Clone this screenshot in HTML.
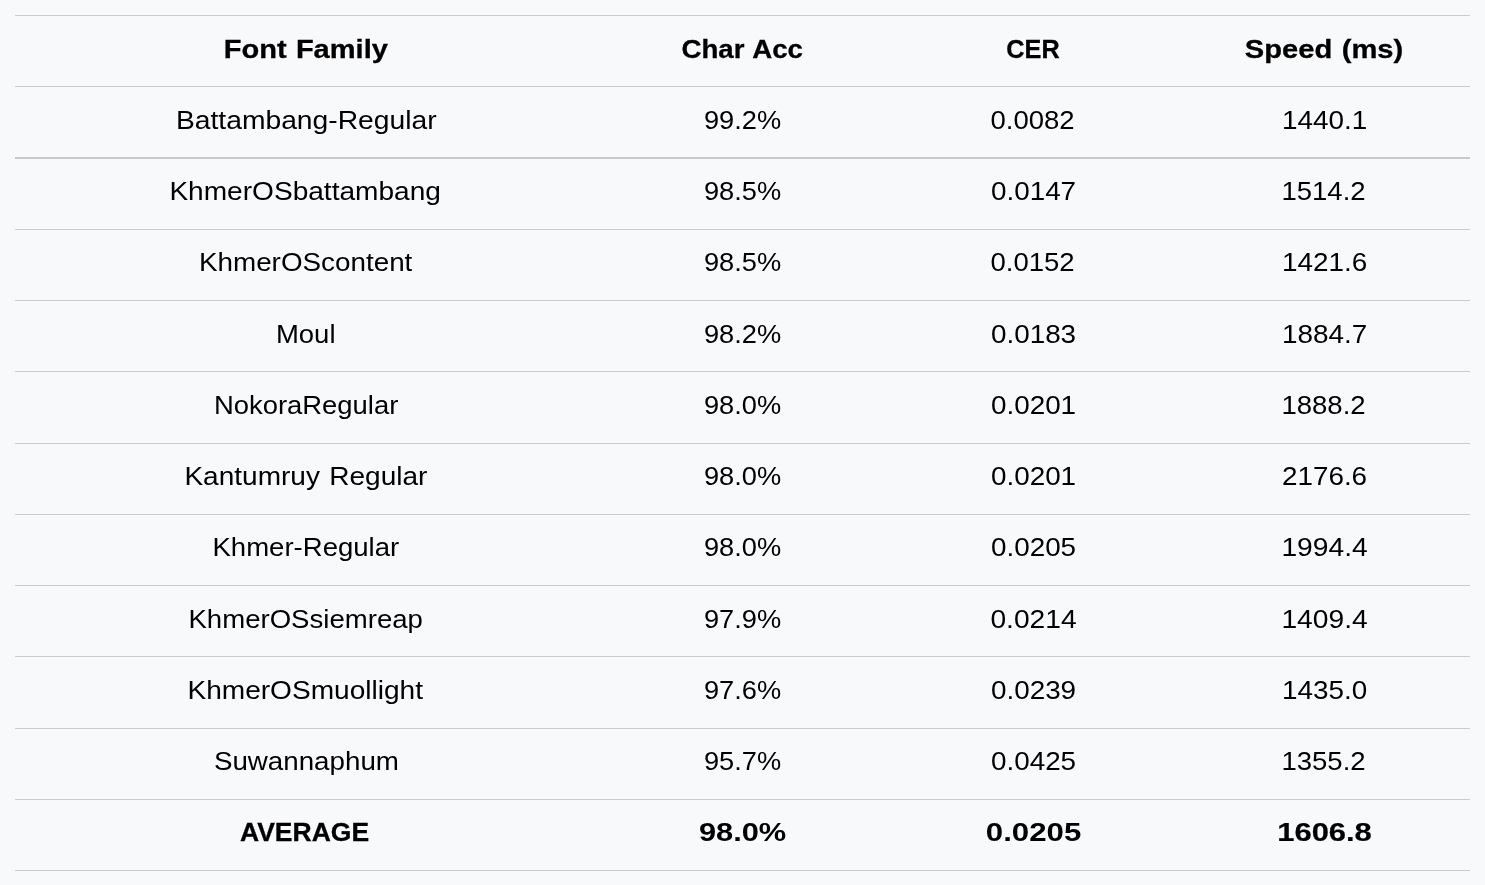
<!DOCTYPE html>
<html lang="en">
<head>
<meta charset="utf-8">
<title>Font OCR accuracy table</title>
<style>
html,body{margin:0;padding:0;}
body{width:1485px;height:885px;overflow:hidden;background:#f8f9fa;position:relative;
  font-family:"Liberation Sans",sans-serif;color:#000;}
.rule{position:absolute;left:15px;width:1455px;height:1px;background:#cccccc;}
.rule.thick{height:2px;background:#c9c9c9;}
.row{position:absolute;left:15px;width:1455px;height:71px;display:flex;will-change:transform;}
.cell{height:71px;line-height:71px;text-align:center;white-space:nowrap;font-size:26.5px;flex:none;}
.c0{width:582px;}.c1,.c2,.c3{width:291px;}
.cell span{display:inline-block;transform-origin:50% 50%;position:relative;}
.b .cell{font-weight:bold;}
</style>
</head>
<body>
<div class="rule" style="top:15px"></div>
<div class="rule" style="top:86px"></div>
<div class="rule thick" style="top:157px"></div>
<div class="rule" style="top:229px"></div>
<div class="rule" style="top:300px"></div>
<div class="rule" style="top:371px"></div>
<div class="rule" style="top:443px"></div>
<div class="rule" style="top:514px"></div>
<div class="rule" style="top:585px"></div>
<div class="rule" style="top:656px"></div>
<div class="rule" style="top:728px"></div>
<div class="rule" style="top:799px"></div>
<div class="rule" style="top:870px"></div>
<div class="row b" style="top:15px">
  <div class="cell c0"><span style="word-spacing:1.0px;-webkit-text-stroke:0.30px #000;transform:scaleX(1.0955);top:-1px;">Font Family</span></div>
  <div class="cell c1"><span style="word-spacing:1.0px;-webkit-text-stroke:0.30px #000;transform:scaleX(1.0444);left:-0.5px;top:-1px;">Char Acc</span></div>
  <div class="cell c2"><span style="-webkit-text-stroke:0.30px #000;transform:scaleX(0.9530);left:-0.5px;top:-1px;">CER</span></div>
  <div class="cell c3"><span style="word-spacing:1.2px;-webkit-text-stroke:0.30px #000;transform:scaleX(1.0994);top:-1px;">Speed (ms)</span></div>
</div>
<div class="row" style="top:86px">
  <div class="cell c0"><span style="transform:scaleX(1.0661);top:-1px;">Battambang-Regular</span></div>
  <div class="cell c1"><span style="transform:scaleX(1.0274);top:-1px;">99.2%</span></div>
  <div class="cell c2"><span style="transform:scaleX(1.0385);left:-0.5px;top:-1px;">0.0082</span></div>
  <div class="cell c3"><span style="transform:scaleX(1.0513);top:-1px;">1440.1</span></div>
</div>
<div class="row" style="top:158px">
  <div class="cell c0"><span style="transform:scaleX(1.0593);left:-0.5px;top:-2px;">KhmerOSbattambang</span></div>
  <div class="cell c1"><span style="transform:scaleX(1.0274);top:-2px;">98.5%</span></div>
  <div class="cell c2"><span style="transform:scaleX(1.0506);top:-2px;">0.0147</span></div>
  <div class="cell c3"><span style="transform:scaleX(1.0395);left:-0.5px;top:-2px;">1514.2</span></div>
</div>
<div class="row" style="top:229px">
  <div class="cell c0"><span style="transform:scaleX(1.0498);top:-2px;">KhmerOScontent</span></div>
  <div class="cell c1"><span style="transform:scaleX(1.0274);top:-2px;">98.5%</span></div>
  <div class="cell c2"><span style="transform:scaleX(1.0385);left:-0.5px;top:-2px;">0.0152</span></div>
  <div class="cell c3"><span style="transform:scaleX(1.0513);top:-2px;">1421.6</span></div>
</div>
<div class="row" style="top:300px">
  <div class="cell c0"><span style="transform:scaleX(1.0370);top:-1px;">Moul</span></div>
  <div class="cell c1"><span style="transform:scaleX(1.0274);top:-1px;">98.2%</span></div>
  <div class="cell c2"><span style="transform:scaleX(1.0506);top:-1px;">0.0183</span></div>
  <div class="cell c3"><span style="transform:scaleX(1.0513);top:-1px;">1884.7</span></div>
</div>
<div class="row" style="top:371px">
  <div class="cell c0"><span style="transform:scaleX(1.0341);top:-1px;">NokoraRegular</span></div>
  <div class="cell c1"><span style="transform:scaleX(1.0274);top:-1px;">98.0%</span></div>
  <div class="cell c2"><span style="transform:scaleX(1.0506);top:-1px;">0.0201</span></div>
  <div class="cell c3"><span style="transform:scaleX(1.0395);left:-0.5px;top:-1px;">1888.2</span></div>
</div>
<div class="row" style="top:443px">
  <div class="cell c0"><span style="word-spacing:1.5px;transform:scaleX(1.0575);left:-0.5px;top:-2px;">Kantumruy Regular</span></div>
  <div class="cell c1"><span style="transform:scaleX(1.0274);top:-2px;">98.0%</span></div>
  <div class="cell c2"><span style="transform:scaleX(1.0506);top:-2px;">0.0201</span></div>
  <div class="cell c3"><span style="transform:scaleX(1.0506);top:-2px;">2176.6</span></div>
</div>
<div class="row" style="top:514px">
  <div class="cell c0"><span style="transform:scaleX(1.0393);left:-0.5px;top:-2px;">Khmer-Regular</span></div>
  <div class="cell c1"><span style="transform:scaleX(1.0274);top:-2px;">98.0%</span></div>
  <div class="cell c2"><span style="transform:scaleX(1.0506);top:-2px;">0.0205</span></div>
  <div class="cell c3"><span style="transform:scaleX(1.0641);left:0.5px;top:-2px;">1994.4</span></div>
</div>
<div class="row" style="top:585px">
  <div class="cell c0"><span style="transform:scaleX(1.0404);left:-0.5px;top:-1px;">KhmerOSsiemreap</span></div>
  <div class="cell c1"><span style="transform:scaleX(1.0274);top:-1px;">97.9%</span></div>
  <div class="cell c2"><span style="transform:scaleX(1.0633);left:0.5px;top:-1px;">0.0214</span></div>
  <div class="cell c3"><span style="transform:scaleX(1.0641);left:0.5px;top:-1px;">1409.4</span></div>
</div>
<div class="row" style="top:656px">
  <div class="cell c0"><span style="transform:scaleX(1.0591);left:-0.5px;top:-1px;">KhmerOSmuollight</span></div>
  <div class="cell c1"><span style="transform:scaleX(1.0274);top:-1px;">97.6%</span></div>
  <div class="cell c2"><span style="transform:scaleX(1.0506);top:-1px;">0.0239</span></div>
  <div class="cell c3"><span style="transform:scaleX(1.0513);top:-1px;">1435.0</span></div>
</div>
<div class="row" style="top:728px">
  <div class="cell c0"><span style="transform:scaleX(1.0465);top:-2px;">Suwannaphum</span></div>
  <div class="cell c1"><span style="transform:scaleX(1.0274);top:-2px;">95.7%</span></div>
  <div class="cell c2"><span style="transform:scaleX(1.0506);top:-2px;">0.0425</span></div>
  <div class="cell c3"><span style="transform:scaleX(1.0395);left:-0.5px;top:-2px;">1355.2</span></div>
</div>
<div class="row b" style="top:799px">
  <div class="cell c0"><span style="-webkit-text-stroke:0.30px #000;transform:scaleX(1.0004);left:-1.0px;top:-2px;">AVERAGE</span></div>
  <div class="cell c1"><span style="transform:scaleX(1.1623);top:-2px;">98.0%</span></div>
  <div class="cell c2"><span style="transform:scaleX(1.1782);top:-2px;">0.0205</span></div>
  <div class="cell c3"><span style="-webkit-text-stroke:0.20px #000;transform:scaleX(1.1668);left:0.5px;top:-2px;">1606.8</span></div>
</div>
</body>
</html>
